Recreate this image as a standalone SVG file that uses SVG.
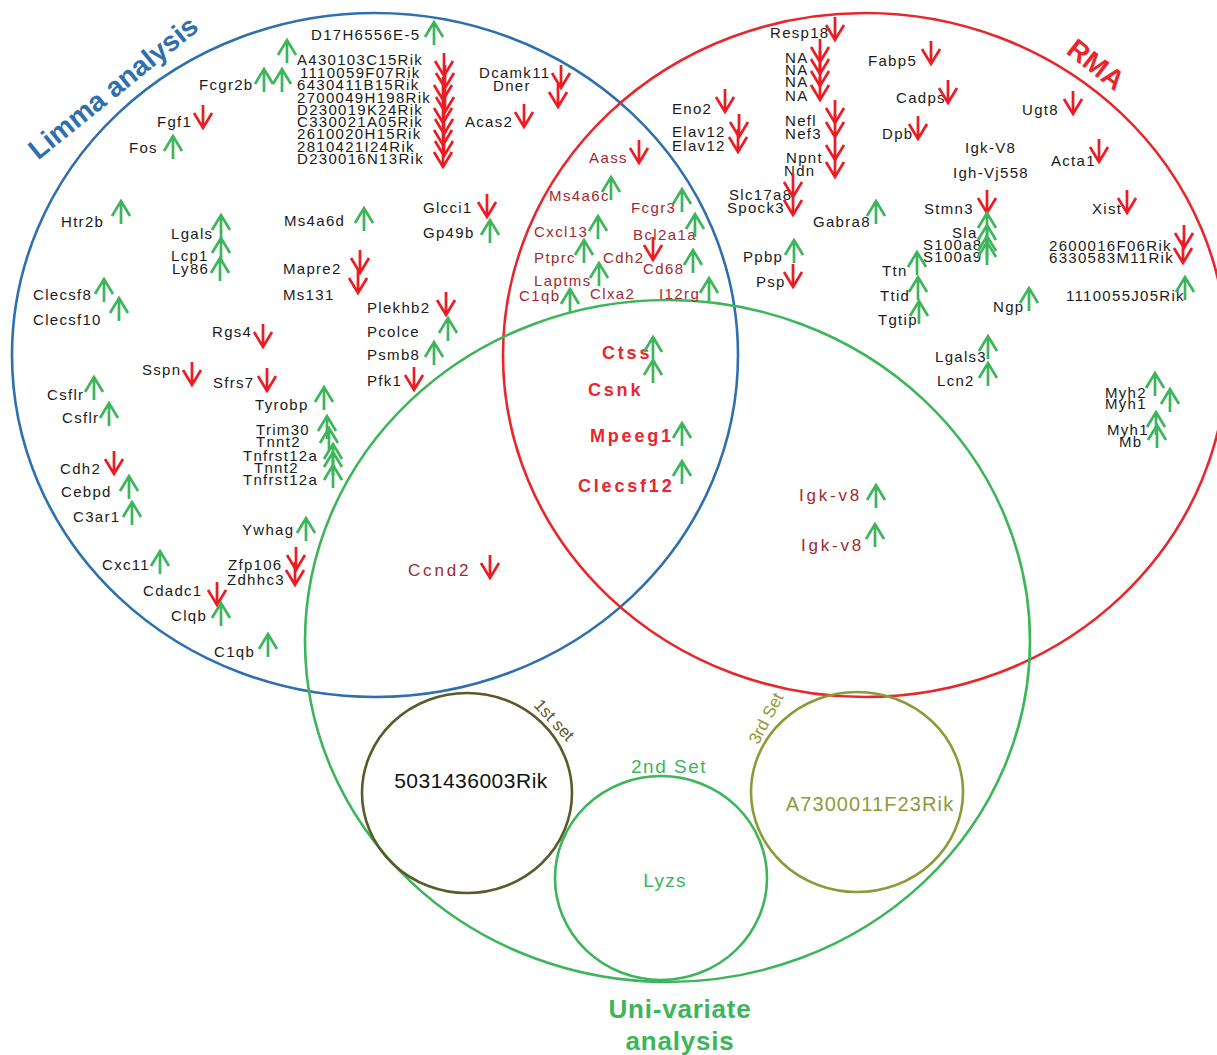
<svg xmlns="http://www.w3.org/2000/svg" width="1217" height="1055" viewBox="0 0 1217 1055">
<defs>
<style>
text{font-family:"Liberation Sans",Arial,sans-serif}
.k{font-size:15px;letter-spacing:1.3px;fill:#1a1a1a}
.d{font-size:15px;letter-spacing:1.4px;fill:#9e2a2f}
.b{font-size:18px;font-weight:bold;letter-spacing:2.8px;fill:#e8262c}
.m{font-size:17px;letter-spacing:2.8px;fill:#9e2a2f}
.u{fill:none;stroke:#3db55a;stroke-width:2.7}
.n{fill:none;stroke:#ec1c24;stroke-width:2.7}
.c{fill:none;stroke-width:2.6}
.t{font-weight:bold;font-size:28px}
</style>
<path id="up" d="M0,0V23M-9,15L0,0L9,15"/>
<path id="dn" d="M0,0V-23M-9,-15L0,0L9,-15"/>
</defs>
<rect width="1217" height="1055" fill="#fff"/>

<g id="limma">
<ellipse class="c" cx="375" cy="355" rx="363" ry="342" stroke="#2f6fae"/>
<text class="t" fill="#2f6fae" text-anchor="middle" transform="translate(119,95) rotate(-39)">Limma analysis</text>
</g>
<g id="rma">
<ellipse class="c" cx="865" cy="355" rx="362" ry="342" stroke="#e8262c"/>
<text class="t" fill="#e8262c" text-anchor="middle" transform="translate(1090,72) rotate(38)">RMA</text>
</g>
<g id="univariate">
<ellipse class="c" cx="667.5" cy="641" rx="362.5" ry="341" stroke="#3db55a"/>
<text font-weight="bold" font-size="26" letter-spacing="0.8" fill="#3db55a" text-anchor="middle" x="680" y="1018">Uni-variate</text>
<text font-weight="bold" font-size="26" letter-spacing="0.8" fill="#3db55a" text-anchor="middle" x="680" y="1050">analysis</text>
</g>
<g id="set1">
<ellipse class="c" cx="467" cy="793" rx="105" ry="100" stroke="#5a5a2b"/>
<text font-size="21" letter-spacing="0.5" fill="#111" text-anchor="middle" x="471" y="788">5031436003Rik</text>
<text font-size="17" fill="#5a5a2b" text-anchor="middle" transform="translate(550,724) rotate(47)">1st set</text>
</g>
<g id="set2">
<ellipse class="c" cx="661" cy="878" rx="106" ry="102" stroke="#3db55a"/>
<text font-size="19" letter-spacing="1.5" fill="#3db55a" text-anchor="middle" x="669" y="773">2nd Set</text>
<text font-size="19" letter-spacing="1.3" fill="#3db55a" text-anchor="middle" x="665" y="887">Lyzs</text>
</g>
<g id="set3">
<ellipse class="c" cx="857" cy="792" rx="106" ry="100" stroke="#8e9a3a"/>
<text font-size="20" letter-spacing="1.1" fill="#8e9a3a" text-anchor="middle" x="870" y="811">A7300011F23Rik</text>
<text font-size="17" fill="#8e9a3a" text-anchor="middle" transform="translate(771,721) rotate(-62)">3rd Set</text>
</g>

<g id="limma-only">
<text class="k" x="311" y="40">D17H6556E-5</text><use href="#up" class="u" x="434" y="22"/>
<use href="#up" class="u" x="287" y="40"/>
<text class="k" x="297" y="65">A430103C15Rik</text>
<text class="k" x="300" y="78">1110059F07Rik</text>
<text class="k" x="297" y="90">6430411B15Rik</text>
<text class="k" x="297" y="103">2700049H198Rik</text>
<text class="k" x="297" y="115">D230019K24Rik</text>
<text class="k" x="297" y="127">C330021A05Rik</text>
<text class="k" x="297" y="139">2610020H15Rik</text>
<text class="k" x="297" y="152">2810421I24Rik</text>
<text class="k" x="297" y="164">D230016N13Rik</text>
<use href="#dn" class="n" x="444" y="76"/><use href="#dn" class="n" x="445" y="88"/><use href="#dn" class="n" x="443" y="100"/>
<use href="#dn" class="n" x="445" y="112"/><use href="#dn" class="n" x="443" y="123"/><use href="#dn" class="n" x="444" y="134"/>
<use href="#dn" class="n" x="443" y="145"/><use href="#dn" class="n" x="444" y="156"/><use href="#dn" class="n" x="443" y="167"/>
<text class="k" x="199" y="90">Fcgr2b</text><use href="#up" class="u" x="264" y="69"/><use href="#up" class="u" x="282" y="69"/>
<text class="k" x="157" y="127">Fgf1</text><use href="#dn" class="n" x="203" y="128"/>
<text class="k" x="129" y="153">Fos</text><use href="#up" class="u" x="173" y="136"/>
<text class="k" x="479" y="78">Dcamk11</text><text class="k" x="493" y="91">Dner</text>
<use href="#dn" class="n" x="561" y="88"/><use href="#dn" class="n" x="558" y="107"/>
<text class="k" x="465" y="127">Acas2</text><use href="#dn" class="n" x="524" y="127"/>
<text class="k" x="61" y="227">Htr2b</text><use href="#up" class="u" x="121" y="201"/>
<text class="k" x="171" y="239">Lgals</text><use href="#up" class="u" x="221" y="215"/>
<text class="k" x="171" y="261">Lcp1</text><use href="#up" class="u" x="221" y="238"/>
<text class="k" x="172" y="274">Ly86</text><use href="#up" class="u" x="220" y="258"/>
<text class="k" x="33" y="300">Clecsf8</text><use href="#up" class="u" x="104" y="279"/>
<text class="k" x="33" y="325">Clecsf10</text><use href="#up" class="u" x="119" y="298"/>
<text class="k" x="284" y="226">Ms4a6d</text><use href="#up" class="u" x="364" y="208"/>
<text class="k" x="423" y="213">Glcci1</text><use href="#dn" class="n" x="487" y="217"/>
<text class="k" x="423" y="238">Gp49b</text><use href="#up" class="u" x="490" y="220"/>
<text class="k" x="283" y="274">Mapre2</text><use href="#dn" class="n" x="360" y="273"/><use href="#dn" class="n" x="358" y="293"/>
<text class="k" x="283" y="300">Ms131</text>
<text class="k" x="367" y="313">Plekhb2</text><use href="#dn" class="n" x="446" y="315"/>
<text class="k" x="367" y="337">Pcolce</text><use href="#up" class="u" x="448" y="318"/>
<text class="k" x="367" y="360">Psmb8</text><use href="#up" class="u" x="434" y="342"/>
<text class="k" x="367" y="386">Pfk1</text><use href="#dn" class="n" x="414" y="390"/>
<text class="k" x="212" y="337">Rgs4</text><use href="#dn" class="n" x="263" y="347"/>
<text class="k" x="142" y="375">Sspn</text><use href="#dn" class="n" x="192" y="385"/>
<text class="k" x="213" y="388">Sfrs7</text><use href="#dn" class="n" x="267" y="391"/>
<text class="k" x="47" y="400">Csflr</text><use href="#up" class="u" x="94" y="377"/>
<text class="k" x="62" y="423">Csflr</text><use href="#up" class="u" x="109" y="403"/>
<text class="k" x="255" y="410">Tyrobp</text><use href="#up" class="u" x="324" y="387"/>
<text class="k" x="256" y="435">Trim30</text>
<text class="k" x="256" y="447">Tnnt2</text>
<text class="k" x="243" y="461">Tnfrst12a</text>
<text class="k" x="254" y="473">Tnnt2</text>
<text class="k" x="243" y="485">Tnfrst12a</text>
<use href="#up" class="u" x="327" y="416"/><use href="#up" class="u" x="329" y="428"/><use href="#up" class="u" x="333" y="444"/>
<use href="#up" class="u" x="333" y="452"/><use href="#up" class="u" x="333" y="465"/>
<text class="k" x="60" y="474">Cdh2</text><use href="#dn" class="n" x="114" y="474"/>
<text class="k" x="61" y="497">Cebpd</text><use href="#up" class="u" x="129" y="476"/>
<text class="k" x="73" y="522">C3ar1</text><use href="#up" class="u" x="132" y="502"/>
<text class="k" x="102" y="570">Cxc11</text><use href="#up" class="u" x="160" y="551"/>
<text class="k" x="242" y="535">Ywhag</text><use href="#up" class="u" x="306" y="518"/>
<text class="k" x="228" y="570">Zfp106</text><text class="k" x="227" y="585">Zdhhc3</text>
<use href="#dn" class="n" x="296" y="570"/><use href="#dn" class="n" x="295" y="585"/>
<text class="k" x="143" y="596">Cdadc1</text><use href="#dn" class="n" x="217" y="605"/>
<text class="k" x="171" y="621">Clqb</text><use href="#up" class="u" x="221" y="603"/>
<text class="k" x="214" y="657">C1qb</text><use href="#up" class="u" x="268" y="634"/>
</g>

<g id="rma-only">
<text class="k" x="770" y="38">Resp18</text><use href="#dn" class="n" x="835" y="40"/>
<text class="k" x="785" y="63">NA</text><text class="k" x="785" y="75">NA</text><text class="k" x="785" y="87">NA</text><text class="k" x="785" y="101">NA</text>
<use href="#dn" class="n" x="820" y="62"/><use href="#dn" class="n" x="820" y="74"/><use href="#dn" class="n" x="820" y="86"/><use href="#dn" class="n" x="820" y="100"/>
<text class="k" x="785" y="126">Nefl</text><text class="k" x="785" y="139">Nef3</text>
<use href="#dn" class="n" x="835" y="123"/><use href="#dn" class="n" x="835" y="137"/>
<text class="k" x="786" y="163">Npnt</text><text class="k" x="784" y="176">Ndn</text>
<use href="#dn" class="n" x="835" y="160"/><use href="#dn" class="n" x="835" y="177"/>
<text class="k" x="672" y="114">Eno2</text><use href="#dn" class="n" x="725" y="112"/>
<text class="k" x="672" y="137">Elav12</text><text class="k" x="672" y="151">Elav12</text>
<use href="#dn" class="n" x="739" y="137"/><use href="#dn" class="n" x="738" y="152"/>
<text class="k" x="729" y="200">Slc17a8</text><text class="k" x="727" y="213">Spock3</text>
<use href="#dn" class="n" x="793" y="197"/><use href="#dn" class="n" x="793" y="215"/>
<text class="k" x="868" y="66">Fabp5</text><use href="#dn" class="n" x="931" y="64"/>
<text class="k" x="896" y="103">Cadps</text><use href="#dn" class="n" x="948" y="103"/>
<text class="k" x="882" y="139">Dpb</text><use href="#dn" class="n" x="918" y="139"/>
<text class="k" x="1022" y="115">Ugt8</text><use href="#dn" class="n" x="1073" y="114"/>
<text class="k" x="965" y="153">Igk-V8</text>
<text class="k" x="953" y="178">Igh-Vj558</text>
<text class="k" x="1051" y="166">Acta1</text><use href="#dn" class="n" x="1099" y="162"/>
<text class="k" x="813" y="227">Gabra8</text><use href="#up" class="u" x="876" y="201"/>
<text class="k" x="924" y="214">Stmn3</text><use href="#dn" class="n" x="987" y="213"/>
<text class="k" x="952" y="238">Sla</text><text class="k" x="923" y="250">S100a8</text><text class="k" x="923" y="262">S100a9</text>
<use href="#up" class="u" x="987" y="213"/><use href="#up" class="u" x="987" y="225"/><use href="#up" class="u" x="987" y="236"/><use href="#up" class="u" x="987" y="242"/>
<text class="k" x="743" y="262">Ppbp</text><use href="#up" class="u" x="794" y="240"/>
<text class="k" x="756" y="287">Psp</text><use href="#dn" class="n" x="793" y="287"/>
<text class="k" x="882" y="276">Ttn</text><use href="#up" class="u" x="917" y="252"/>
<text class="k" x="880" y="301">Ttid</text><use href="#up" class="u" x="918" y="277"/>
<text class="k" x="878" y="325">Tgtip</text><use href="#up" class="u" x="919" y="301"/>
<text class="k" x="993" y="312">Ngp</text><use href="#up" class="u" x="1029" y="288"/>
<text class="k" x="935" y="362">Lgals3</text><use href="#up" class="u" x="988" y="336"/>
<text class="k" x="937" y="386">Lcn2</text><use href="#up" class="u" x="988" y="363"/>
<text class="k" x="1092" y="214">Xist</text><use href="#dn" class="n" x="1127" y="213"/>
<text class="k" x="1049" y="251">2600016F06Rik</text><text class="k" x="1049" y="263">6330583M11Rik</text>
<use href="#dn" class="n" x="1184" y="248"/><use href="#dn" class="n" x="1183" y="263"/>
<text class="k" x="1066" y="301">1110055J05Rik</text><use href="#up" class="u" x="1185" y="277"/>
<text class="k" x="1105" y="398">Myh2</text><text class="k" x="1105" y="409">Myh1</text>
<text class="k" x="1107" y="435">Myh1</text><text class="k" x="1119" y="447">Mb</text>
<use href="#up" class="u" x="1155" y="373"/><use href="#up" class="u" x="1170" y="389"/><use href="#up" class="u" x="1156" y="412"/><use href="#up" class="u" x="1157" y="425"/>
</g>

<g id="limma-rma">
<text class="d" x="589" y="163">Aass</text><use href="#dn" class="n" x="639" y="163"/>
<text class="d" x="549" y="201">Ms4a6c</text><use href="#up" class="u" x="611" y="177"/>
<text class="d" x="631" y="213">Fcgr3</text><use href="#up" class="u" x="682" y="189"/>
<text class="d" x="534" y="237">Cxcl13</text><use href="#up" class="u" x="598" y="216"/>
<text class="d" x="633" y="240">Bcl2a1a</text><use href="#up" class="u" x="695" y="214"/><use href="#dn" class="n" x="653" y="260"/>
<text class="d" x="534" y="263">Ptprc</text><use href="#up" class="u" x="584" y="240"/>
<text class="d" x="603" y="263">Cdh2</text>
<text class="d" x="643" y="274">Cd68</text><use href="#up" class="u" x="693" y="250"/>
<text class="d" x="534" y="286">Laptms</text><use href="#up" class="u" x="599" y="263"/>
<text class="d" x="590" y="299">Clxa2</text>
<text class="d" x="659" y="299">I12rg</text><use href="#up" class="u" x="709" y="278"/>
<text class="d" x="519" y="301">C1qb</text><use href="#up" class="u" x="570" y="289"/>
</g>

<g id="all-three">
<text class="b" x="602" y="359">Ctss</text><use href="#up" class="u" x="653" y="337"/>
<text class="b" x="588" y="396">Csnk</text><use href="#up" class="u" x="653" y="360"/>
<text class="b" x="590" y="442">Mpeeg1</text><use href="#up" class="u" x="682" y="423"/>
<text class="b" x="578" y="492">Clecsf12</text><use href="#up" class="u" x="682" y="461"/>
</g>

<g id="limma-uni">
<text class="m" x="408" y="576">Ccnd2</text><use href="#dn" class="n" x="490" y="578"/>
</g>

<g id="rma-uni">
<text class="m" x="799" y="501">Igk-v8</text><use href="#up" class="u" x="876" y="485"/>
<text class="m" x="801" y="551">Igk-v8</text><use href="#up" class="u" x="875" y="524"/>
</g>
</svg>
